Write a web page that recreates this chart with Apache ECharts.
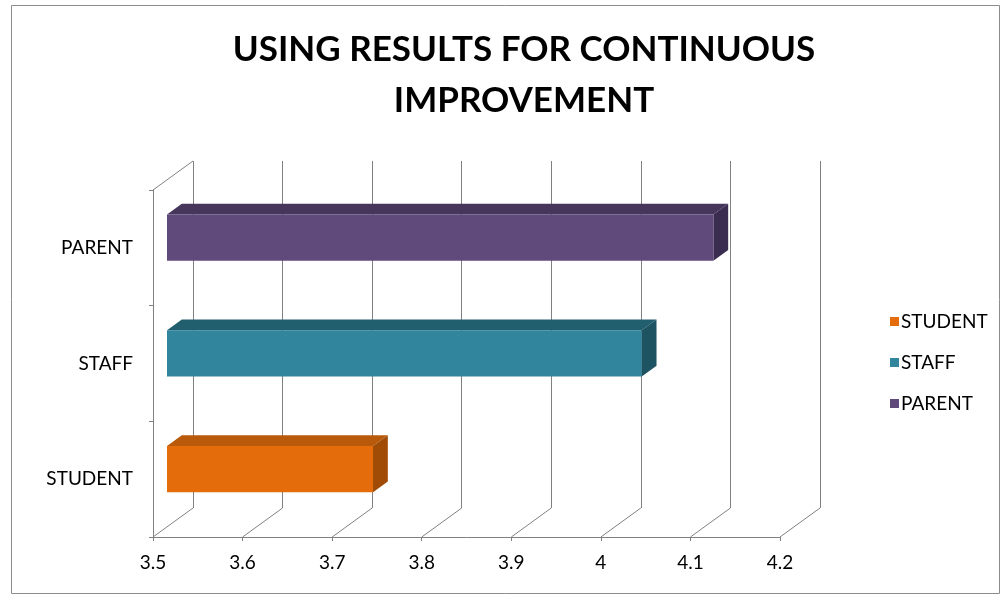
<!DOCTYPE html>
<html>
<head>
<meta charset="utf-8">
<script src="https://cdn.jsdelivr.net/npm/echarts@6/dist/echarts.min.js"></script>
<style>
  html, body { margin: 0; padding: 0; background: #fff; }
  #chart { width: 1005px; height: 598px; }
</style>
</head>
<body>
<div id="chart"></div>
<script>
const categories = ['STUDENT', 'STAFF', 'PARENT'];
const values = [3.73, 4.03, 4.11];
const xTicks = [3.5, 3.6, 3.7, 3.8, 3.9, 4.0, 4.1, 4.2];

// front / side / top colours per bar
const faceColors = ['#e46c0a', '#31859c', '#604a7b'];
const topColors = ['#b85a0a', '#215e6e', '#46365c'];
const sideColors = ['#a04c06', '#1e5361', '#3b2d4f'];

const FONT = 'Lato, "Open Sans", sans-serif';
const DEPTH = [40, -29];         // wall depth in px
const BAR_FRONT = 0.35, BAR_BACK = 0.72;
const BAR_H = 0.4;

const chart = echarts.init(document.getElementById('chart'));

function barSeries(i) {
  return {
    type: 'custom',
    name: categories[i],
    xAxisIndex: 0,
    yAxisIndex: 0,
    itemStyle: { color: faceColors[i] },
    data: [[values[i], i]],
    z: 10,
    renderItem(params, api) {
      const start = api.coord([3.5, api.value(1)]);
      const end = api.coord([api.value(0), api.value(1)]);
      const band = api.size([0, 1])[1];
      const fx = DEPTH[0] * BAR_FRONT, fy = DEPTH[1] * BAR_FRONT;
      const dx = DEPTH[0] * (BAR_BACK - BAR_FRONT), dy = DEPTH[1] * (BAR_BACK - BAR_FRONT);
      const x0 = start[0] + fx, x1 = end[0] + fx;
      const y0 = start[1] + fy - band * BAR_H / 2, y1 = y0 + band * BAR_H;
      return {
        type: 'group',
        children: [
          { type: 'polygon', shape: { points: [[x0, y0], [x1, y0], [x1 + dx, y0 + dy], [x0 + dx, y0 + dy]] },
            style: { fill: topColors[i] } },
          { type: 'polygon', shape: { points: [[x1, y0], [x1 + dx, y0 + dy], [x1 + dx, y1 + dy], [x1, y1]] },
            style: { fill: sideColors[i] } },
          { type: 'rect', shape: { x: x0, y: y0, width: x1 - x0, height: y1 - y0 },
            style: { fill: faceColors[i] } }
        ]
      };
    }
  };
}

chart.setOption({
  animation: false,
  graphic: [{
    type: 'rect', shape: { x: 11.5, y: 5.5, width: 988, height: 588 },
    style: { fill: 'none', stroke: '#8c8c8c', lineWidth: 1 }, silent: true
  }],
  title: {
    text: 'USING RESULTS FOR CONTINUOUS\nIMPROVEMENT',
    left: 519, top: 19, textAlign: 'center',
    textStyle: { fontFamily: FONT, fontWeight: 'bold', fontSize: 35, lineHeight: 51, color: '#000' }
  },
  legend: {
    orient: 'vertical',
    left: 885, top: 307,
    icon: 'rect', itemWidth: 9, itemHeight: 9, itemGap: 22,
    data: categories,
    textStyle: { fontFamily: FONT, fontSize: 19, color: '#000', padding: [0, 0, 0, -3] }
  },
  grid: [
    { left: 153, top: 190, width: 627, height: 347 },
    { left: 193, top: 161, width: 627, height: 347 }
  ],
  xAxis: [{
    type: 'value', gridIndex: 0, min: 3.5, max: 4.2, interval: 0.1,
    axisLine: { show: true, lineStyle: { color: '#808080' } },
    axisTick: { show: true, length: 4, lineStyle: { color: '#808080' } },
    splitLine: { show: false },
    axisLabel: { fontFamily: FONT, fontSize: 19, color: '#000', margin: 16,
      formatter: v => String(Math.round(v * 10) / 10) }
  }, {
    type: 'value', gridIndex: 1, min: 3.5, max: 4.2, interval: 0.1,
    axisLine: { show: false }, axisTick: { show: false }, axisLabel: { show: false },
    splitLine: { show: true, lineStyle: { color: '#808080', width: 1 } }
  }],
  yAxis: [{
    type: 'category', gridIndex: 0, data: categories,
    axisLine: { show: true, lineStyle: { color: '#808080' } },
    axisTick: { show: true, length: 4, lineStyle: { color: '#808080' } },
    axisLabel: { fontFamily: FONT, fontSize: 19, color: '#000', margin: 20 }
  }, {
    type: 'category', gridIndex: 1, data: categories, show: false
  }],
  series: [
    {
      // floor diagonals and top-left wall edge
      type: 'custom', xAxisIndex: 0, yAxisIndex: 0, silent: true, z: 1,
      data: xTicks.map(v => [v, 0]),
      renderItem(params, api) {
        const p = api.coord([api.value(0), 0]);
        const band = api.size([0, 1])[1];
        const yb = p[1] + band / 2;
        const lines = [{ type: 'line', shape: { x1: p[0], y1: yb, x2: p[0] + DEPTH[0], y2: yb + DEPTH[1] },
          style: { stroke: '#808080', lineWidth: 1 } }];
        if (params.dataIndex === 0) {
          const yt = yb - band * categories.length;
          lines.push({ type: 'line', shape: { x1: p[0], y1: yt, x2: p[0] + DEPTH[0], y2: yt + DEPTH[1] },
            style: { stroke: '#808080', lineWidth: 1 } });
        }
        return { type: 'group', children: lines };
      }
    },
    barSeries(0), barSeries(1), barSeries(2)
  ]
});
</script>
</body>
</html>
